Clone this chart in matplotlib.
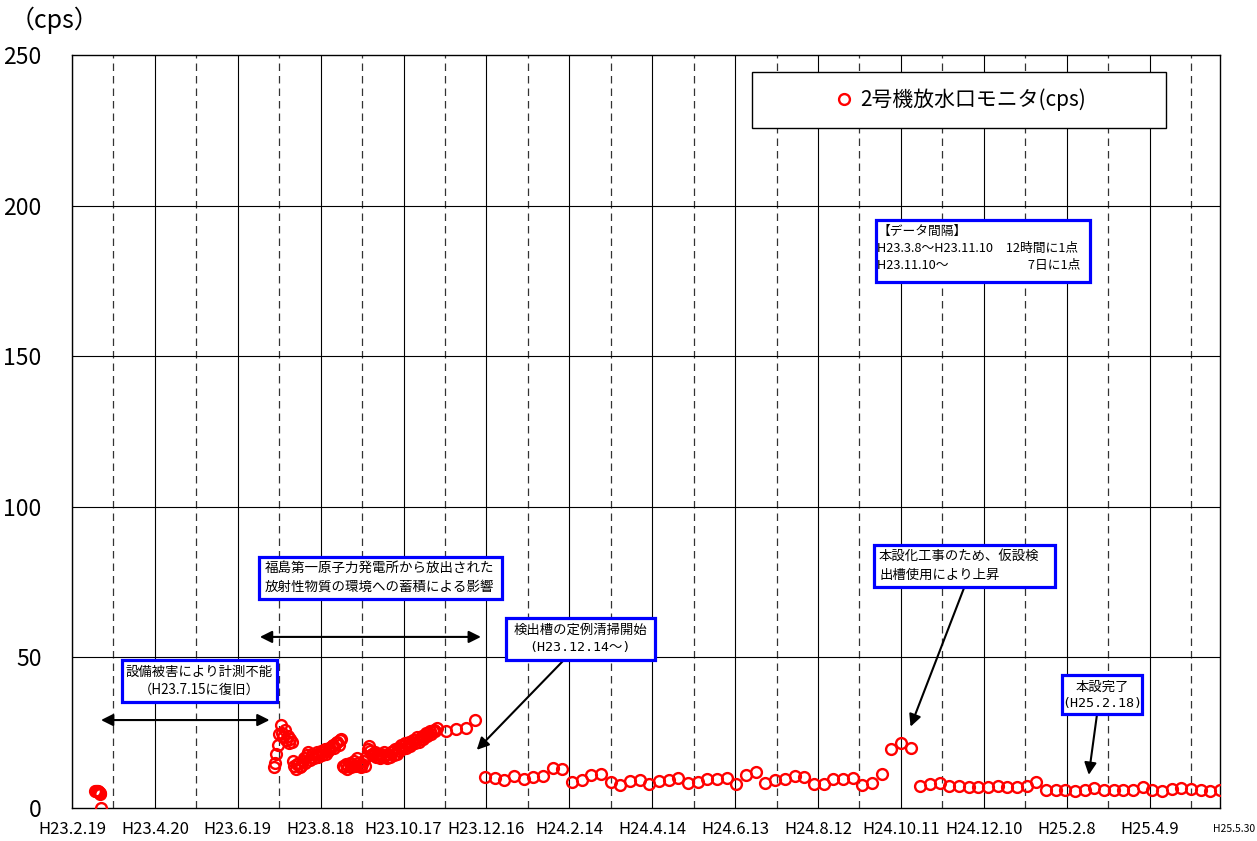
import matplotlib
matplotlib.use('Agg')
import matplotlib.pyplot as plt
import matplotlib.dates as mdates
from matplotlib.patches import Rectangle
import pandas as pd

plt.rcParams['font.family'] = ['Noto Sans CJK JP', 'DejaVu Sans']

# --- data ---
tick_labels = ['H23.2.19', 'H23.4.20', 'H23.6.19', 'H23.8.18', 'H23.10.17', 'H23.12.16',
               'H24.2.14', 'H24.4.14', 'H24.6.13', 'H24.8.12', 'H24.10.11', 'H24.12.10',
               'H25.2.8', 'H25.4.9']
end_label = 'H25.5.30'
y_ticks = [0, 50, 100, 150, 200, 250]

# before the earthquake, 12 hour interval
early_times = ['2011-03-08 00:00', '2011-03-08 12:00', '2011-03-09 00:00', '2011-03-09 12:00',
               '2011-03-10 00:00', '2011-03-10 12:00', '2011-03-11 00:00', '2011-03-11 12:00',
               '2011-03-12 00:00']
early_cps = [5.6, 5.5, 5.7, 5.3, 5.5, 5.2, 5.0, 4.8, 0.0]

# after restoration (H23.7.15 - H23.11.10), one reading per day
dense_start = '2011-07-15'
dense_cps = [13.5, 15.0, 18.0, 21.0, 24.5,
             27.5, 25.0, 23.5, 26.0, 22.5, 24.0, 21.5, 23.0, 22.0,
             15.5, 14.0, 13.0, 14.5, 15.0, 13.5, 14.0, 15.5,
             16.5, 15.0, 17.5, 18.5, 16.0, 17.0, 18.0, 16.5, 17.5, 18.5,
             17.0, 18.0, 19.0, 17.5, 18.5, 19.5, 18.0, 19.0, 20.0, 19.5,
             20.5, 21.0, 20.0, 21.5, 22.0, 21.0, 22.5, 23.0,
             14.0, 13.5, 14.5, 13.0, 14.0, 15.0, 13.5, 14.5, 15.5, 14.0,
             16.5, 15.0, 14.0, 13.5, 14.5, 15.5, 14.0,
             17.0, 19.5, 20.5, 19.0, 18.0, 17.5, 18.5, 17.0, 18.0, 17.5, 16.5,
             18.0, 17.0, 18.5, 17.5, 16.5, 18.0, 17.0, 18.5,
             19.0, 17.5, 19.5, 18.0, 20.0, 19.0, 21.0, 19.5, 20.5, 21.5,
             20.0, 21.0, 22.0, 20.5, 21.5, 22.5, 21.5, 22.5, 23.5, 22.0,
             23.0, 24.0, 23.0, 24.0, 25.0, 24.0, 25.0, 25.5, 24.5, 25.5,
             26.0, 25.5, 26.5]

# weekly readings from H23.11.17
weekly_start = '2011-11-17'
weekly_cps = [25.6, 26.2, 26.6, 29.2,
              10.2, 9.9, 9.3, 10.6, 9.5, 10.2, 10.5, 13.3, 13.1, 8.7,
              9.4, 11.1, 11.3, 8.6, 7.7, 8.9, 9.4, 8.0, 9.0, 9.4,
              10.0, 8.2, 8.7, 9.5, 9.7, 10.0, 8.0, 11.0, 12.0, 8.2,
              9.3, 9.6, 10.5, 10.4, 8.0, 8.1, 9.5, 9.5, 10.1, 7.5, 8.2,
              11.3, 19.6, 21.7, 19.8, 7.4, 8.0, 8.2, 7.2, 7.2, 7.1,
              7.1, 7.1, 7.2, 7.1, 7.1, 7.3, 8.5, 6.1, 6.1, 6.0,
              5.6, 6.0, 6.5, 6.1, 5.9, 6.0, 6.1, 7.0, 6.1, 5.8,
              6.2, 6.6, 6.4, 5.9, 5.6, 6.0]


def heisei(s):
    y, m, d = s[1:].split('.')
    return pd.Timestamp(int(y) + 1988, int(m), int(d))


def dn(s):
    return mdates.date2num(pd.Timestamp(s))


W, H = 1257, 841
L, R, T, B = 72, 1220, 55, 808

fig = plt.figure(figsize=(W / 100, H / 100), dpi=100)
ax = fig.add_axes([L / W, 1 - B / H, (R - L) / W, (B - T) / H])


def axx(px):
    return (px - L) / (R - L)


def axy(py):
    return (B - py) / (B - T)


tick_dates = [heisei(s) for s in tick_labels]
start, end = tick_dates[0], heisei(end_label)

# grid: solid every 60 days, dashed in between
for d in tick_dates:
    ax.axvline(d, color='black', lw=0.8, zorder=1)
    ax.axvline(d + pd.Timedelta(days=30), color='#333333', lw=0.9,
               ls=(0, (6, 4)), zorder=1)
for v in y_ticks[1:-1]:
    ax.axhline(v, color='black', lw=0.8, zorder=1)

mk = dict(ls='none', marker='o', mfc='none', mec='red', mew=1.7, ms=7.8, zorder=3)
line, = ax.plot(pd.to_datetime(early_times), early_cps, label='2号機放水口モニタ(cps)', **mk)
ax.plot(pd.date_range(dense_start, periods=len(dense_cps), freq='D'), dense_cps, **mk)
ax.plot(pd.date_range(weekly_start, periods=len(weekly_cps), freq='7D'), weekly_cps, **mk)

ax.set_xlim(start, end)
ax.set_ylim(0, 250)
ax.set_xticks(tick_dates)
ax.set_xticklabels(tick_labels, fontsize=12)
ax.set_yticks(y_ticks)
ax.set_yticklabels([str(v) for v in y_ticks], fontsize=16.5)
ax.tick_params(axis='x', length=0, pad=9)
ax.tick_params(axis='y', length=0, pad=22)
for s in ax.spines.values():
    s.set_linewidth(1.0)
    s.set_color('black')

ax.text(axx(1255), axy(829), end_label, transform=ax.transAxes, fontsize=7.5,
        ha='right', va='center', clip_on=False)
fig.text(10 / W, 1 - 20 / H, '（cps）', fontsize=18, ha='left', va='center')

# legend box
ax.add_patch(Rectangle((axx(752), axy(128)), axx(1166) - axx(752), axy(72) - axy(128),
                       transform=ax.transAxes, facecolor='white', edgecolor='black',
                       lw=1.0, zorder=4, clip_on=False))
ax.legend(handles=[line], loc='center left', bbox_to_anchor=(axx(836), axy(100)),
          frameon=False, fontsize=15, handlelength=0.75, handletextpad=0.4,
          borderpad=0, borderaxespad=0)


def note(box, lines, ys, xt, ha='center', size=9.6, family=None):
    x0, y0, x1, y1 = box
    ax.add_patch(Rectangle((axx(x0), axy(y1)), axx(x1) - axx(x0), axy(y0) - axy(y1),
                           transform=ax.transAxes, facecolor='white', edgecolor='blue',
                           lw=2.3, zorder=6, clip_on=False))
    for i, (txt, yy) in enumerate(zip(lines, ys)):
        fam = family[i] if family else None
        kw = {'family': fam} if fam else {}
        ax.text(axx(xt), axy(yy), txt, transform=ax.transAxes, fontsize=size,
                ha=ha, va='center', zorder=7, **kw)


mono = ['DejaVu Sans Mono', 'Noto Sans CJK JP']
note((122, 660, 277, 702), ['設備被害により計測不能', '（H23.7.15に復旧）'], [672, 690], 199)
note((259, 557, 502, 599), ['福島第一原子力発電所から放出された', '放射性物質の環境への蓄積による影響'],
     [568, 587], 265, ha='left', size=9.7)
note((506, 618, 655, 660), ['検出槽の定例清掃開始', '(H23.12.14～)'], [630, 648], 580,
     family=[None, mono])
note((874, 545, 1055, 587), ['本設化工事のため、仮設検', '出槽使用により上昇'], [556, 575], 879,
     ha='left')
note((1062, 675, 1142, 714), ['本設完了', '(H25.2.18)'], [687, 704], 1102, family=[None, mono])
note((876, 220, 1090, 282), ['【データ間隔】', 'H23.3.8～H23.11.10　12時間に1点',
                             'H23.11.10～　　　　　　 7日に1点'],
     [231, 248, 265], 877, ha='left', size=9.2)

# arrows
dbl = dict(arrowstyle='<|-|>', color='black', lw=1.5, mutation_scale=18, shrinkA=0, shrinkB=0)
one = dict(arrowstyle='-|>', color='black', lw=1.5, mutation_scale=18, shrinkA=0, shrinkB=0)
ax.annotate('', xy=(dn('2011-03-12'), 29.2), xytext=(dn('2011-07-12'), 29.2), arrowprops=dbl)
ax.annotate('', xy=(dn('2011-07-05'), 56.8), xytext=(dn('2011-12-12'), 56.8), arrowprops=dbl)
ax.annotate('', xy=(dn('2011-12-09'), 19.3), xytext=(dn('2012-02-10'), 49.1), arrowprops=one)
ax.annotate('', xy=(dn('2012-10-18'), 27.0), xytext=(dn('2012-11-26'), 73.4), arrowprops=one)
ax.annotate('', xy=(dn('2013-02-24'), 11.0), xytext=(dn('2013-03-02'), 31.2), arrowprops=one)

fig.savefig('out.png', dpi=100)
